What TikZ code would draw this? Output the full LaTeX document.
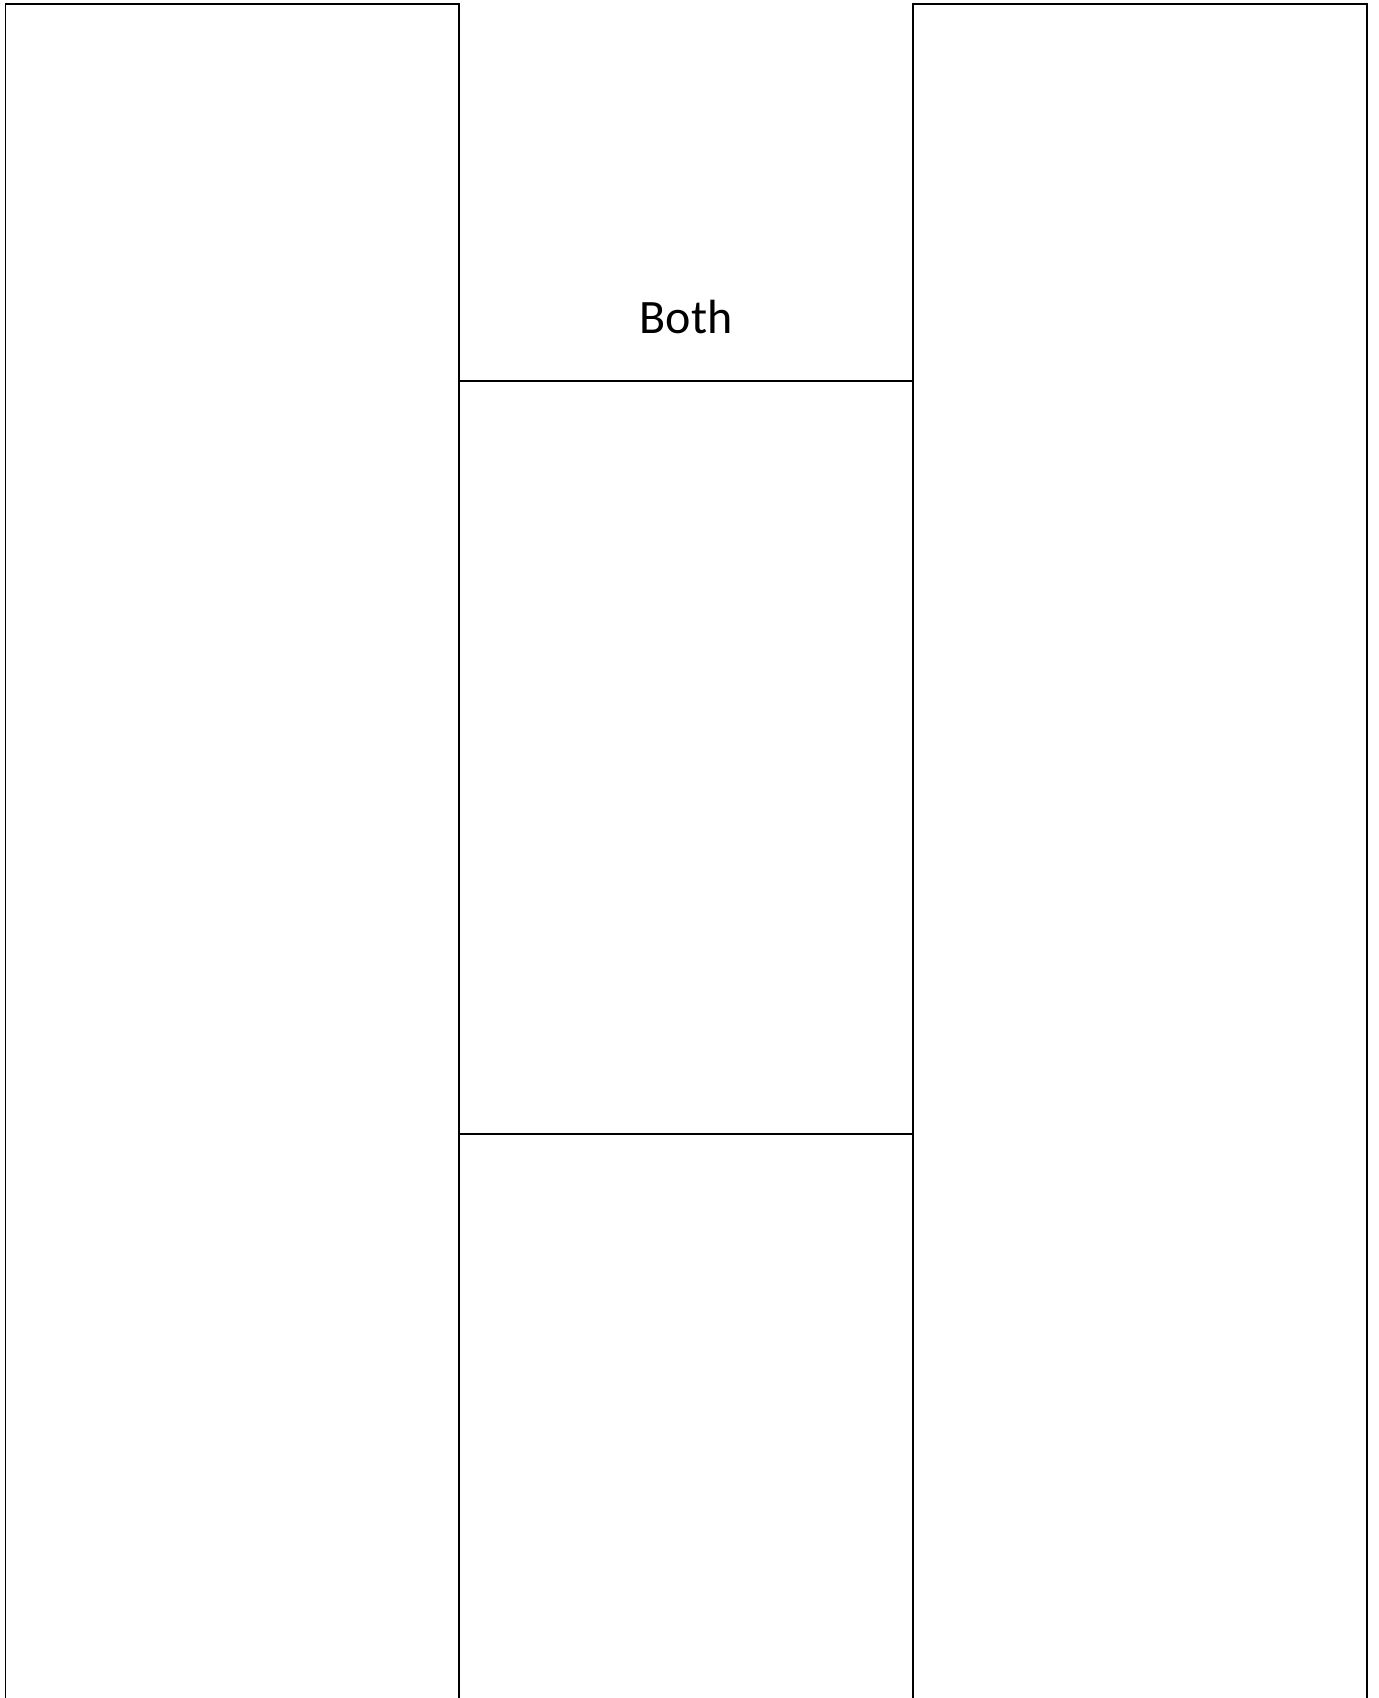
\documentclass[tikz,border=0pt]{standalone}
\usepackage{fontspec}
\setmainfont{Carlito}
\usepackage{tikz}
\usetikzlibrary{positioning}

\begin{document}
\begin{tikzpicture}[x=0.75pt,y=0.75pt,line width=1.4pt,font=\fontsize{36}{43}\selectfont]
  \useasboundingbox (0,0) rectangle (1378,1698);
  % outer columns, open at the bottom
  \draw (5.5,-5) -- (5.5,1694) -- (459,1694) -- (459,-5);
  \draw (913,-5) -- (913,1694) -- (1367,1694) -- (1367,-5);
  % middle column splits
  \draw (459,1317) -- (913,1317);
  \draw (459,564) -- (913,564);
  \node[anchor=base,inner sep=0pt] (both) at (686,1364) {Both};
\end{tikzpicture}
\end{document}
